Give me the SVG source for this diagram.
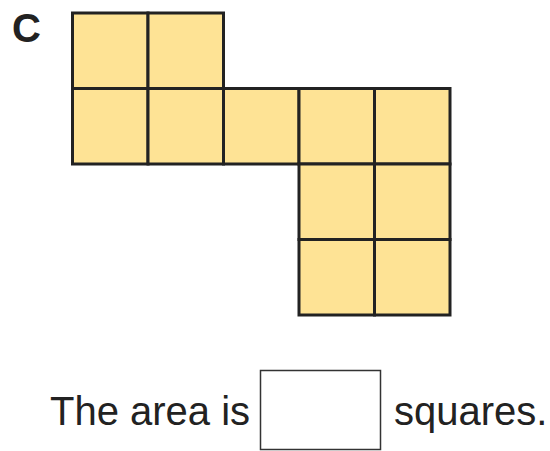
<svg xmlns="http://www.w3.org/2000/svg" width="550" height="451" viewBox="0 0 550 451">
<style>
.cell{fill:#FEE395;stroke:#222;stroke-width:3}
.t{font-family:"Liberation Sans",Arial,sans-serif;fill:#222;font-size:40px}
</style>
<rect width="550" height="451" fill="#fff"/>
<text class="t" x="12" y="42" font-weight="bold">C</text>
<g id="shape">
<rect class="cell" x="72.5" y="13" width="75.5" height="75.5"/>
<rect class="cell" x="148" y="13" width="75.5" height="75.5"/>
<rect class="cell" x="72.5" y="88.5" width="75.5" height="75.5"/>
<rect class="cell" x="148" y="88.5" width="75.5" height="75.5"/>
<rect class="cell" x="223.5" y="88.5" width="75.5" height="75.5"/>
<rect class="cell" x="299" y="88.5" width="75.5" height="75.5"/>
<rect class="cell" x="374.5" y="88.5" width="75.5" height="75.5"/>
<rect class="cell" x="299" y="164" width="75.5" height="75.5"/>
<rect class="cell" x="374.5" y="164" width="75.5" height="75.5"/>
<rect class="cell" x="299" y="239.5" width="75.5" height="75.5"/>
<rect class="cell" x="374.5" y="239.5" width="75.5" height="75.5"/>
</g>
<text class="t" x="50" y="425">The area is</text>
<rect id="answer" x="260.5" y="370.5" width="120" height="79" fill="#fff" stroke="#333" stroke-width="1.5"/>
<text class="t" x="394" y="425">squares.</text>
</svg>
